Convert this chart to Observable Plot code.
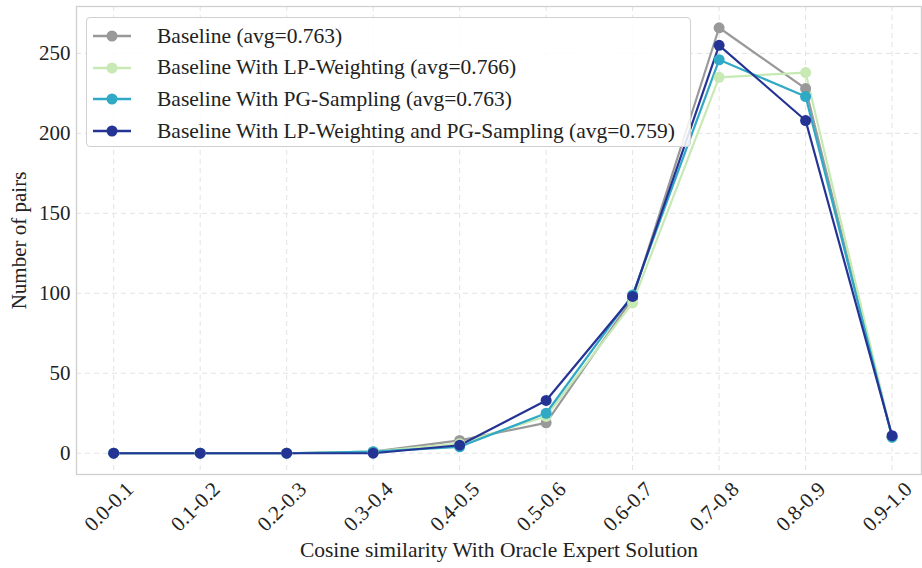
<!DOCTYPE html>
<html>
<head>
<meta charset="utf-8">
<script src="https://cdn.jsdelivr.net/npm/d3@7"></script>
<script src="https://cdn.jsdelivr.net/npm/@observablehq/plot@0.6"></script>
<style>
  html, body { margin: 0; padding: 0; background: #fff; }
  #wrap { position: relative; width: 922px; height: 568px; font-family: "Liberation Serif", "DejaVu Serif", serif; }
  #legend { position: absolute; left: 86px; top: 17px; width: 605px; height: 130px; border: 1.3px solid #d0d0d0; border-radius: 4px; background: rgba(255,255,255,0.85); box-sizing: border-box; }
  .row { position: absolute; left: 0; height: 30px; display: flex; align-items: center; font-size: 21.5px; color: #222; white-space: nowrap; }
  .row svg { margin-left: 6px; margin-right: 26px; }
</style>
</head>
<body>
<div id="wrap"></div>
<script>
const categories = ["0.0-0.1","0.1-0.2","0.2-0.3","0.3-0.4","0.4-0.5","0.5-0.6","0.6-0.7","0.7-0.8","0.8-0.9","0.9-1.0"];
const seriesNames = [
  "Baseline (avg=0.763)",
  "Baseline With LP-Weighting (avg=0.766)",
  "Baseline With PG-Sampling (avg=0.763)",
  "Baseline With LP-Weighting and PG-Sampling (avg=0.759)"
];
const baseline      = [0, 0, 0, 1, 8, 19, 97, 266, 228, 10];
const lpWeighting   = [0, 0, 0, 1, 6, 23, 94, 235, 238, 10];
const pgSampling    = [0, 0, 0, 1, 4, 25, 99, 246, 223, 10];
const lpAndPg       = [0, 0, 0, 0, 5, 33, 98, 255, 208, 11];
const colors = ["#999999", "#c7e9b4", "#2fa9c5", "#253494"];
const yTicks = [0, 50, 100, 150, 200, 250];

const allSeries = [baseline, lpWeighting, pgSampling, lpAndPg];
const rows = [];
allSeries.forEach((vals, s) => vals.forEach((v, i) => rows.push({i, v, s: seriesNames[s]})));
const catIdx = categories.map((c, i) => i);

const font = '"Liberation Serif", "DejaVu Serif", serif';
const chart = Plot.plot({
  width: 922,
  height: 568,
  marginLeft: 76,
  marginRight: 1,
  marginTop: 6,
  marginBottom: 94,
  style: {fontFamily: font, fontSize: "17px", color: "#222", background: "#fff"},
  x: {type: "linear", domain: [-0.43, 9.34], axis: null},
  y: {domain: [-13.3, 279.3], axis: null},
  color: {domain: seriesNames, range: colors},
  marks: [
    Plot.ruleX(catIdx, {stroke: "#e3e3e3", strokeWidth: 1, strokeDasharray: "5,4"}),
    Plot.ruleY(yTicks, {stroke: "#e3e3e3", strokeWidth: 1, strokeDasharray: "5,4"}),
    Plot.frame({stroke: "#cfcfcf", strokeWidth: 1.3}),
    Plot.axisY(yTicks, {tickSize: 0, tickPadding: 6, fontSize: 21, label: null}),
    Plot.text(["Number of pairs"], {frameAnchor: "left", dx: -57, rotate: -90, fontSize: 21, textAnchor: "middle"}),
    Plot.text(catIdx, {x: d => d, frameAnchor: "bottom", dy: 37, rotate: -45, textAnchor: "middle", fontSize: 21, text: i => categories[i]}),
    Plot.text(["Cosine similarity With Oracle Expert Solution"], {frameAnchor: "bottom", dy: 82, fontSize: 21.5}),
    Plot.line(rows, {x: "i", y: "v", z: "s", stroke: "s", strokeWidth: 2.2}),
    Plot.dot(rows, {x: "i", y: "v", fill: "s", r: 5.5})
  ]
});
const wrap = document.getElementById("wrap");
wrap.appendChild(chart);

const legend = document.createElement("div");
legend.id = "legend";
seriesNames.forEach((name, k) => {
  const row = document.createElement("div");
  row.className = "row";
  row.style.top = (3 + k * 31.7) + "px";
  row.innerHTML = `<svg width="38" height="14"><line x1="0" y1="7" x2="38" y2="7" stroke="${colors[k]}" stroke-width="2.4"/><circle cx="19" cy="7" r="5.5" fill="${colors[k]}"/></svg><span>${name}</span>`;
  legend.appendChild(row);
});
wrap.appendChild(legend);
</script>
</body>
</html>
